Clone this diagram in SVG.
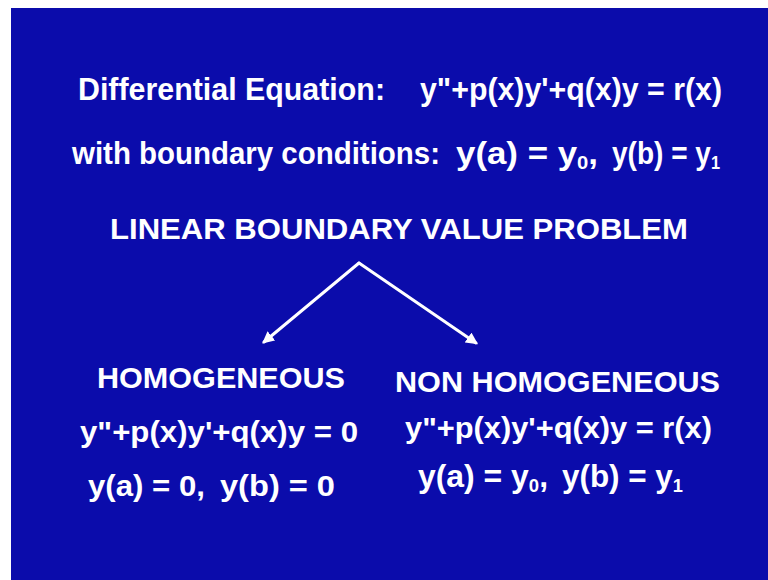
<svg xmlns="http://www.w3.org/2000/svg" width="768" height="580" viewBox="0 0 768 580">
<style>
  text { font-family: "Liberation Sans", Arial, sans-serif; font-weight: bold; fill: #ffffff; }
  .t { font-size: 31px; }
  .h { font-size: 30px; }
  .sub { font-size: 18px; }
  .conn { stroke: #ffffff; stroke-width: 3; fill: none; stroke-linecap: round; }
</style>
<defs>
  <marker id="ah" viewBox="0 0 10 10" refX="8" refY="5" markerWidth="4" markerHeight="4" orient="auto" markerUnits="strokeWidth">
    <path d="M0,0 L10,5 L0,10 z" fill="#ffffff"/>
  </marker>
</defs>
<rect x="0" y="0" width="768" height="580" fill="#ffffff"/>
<rect x="11" y="8" width="757" height="572" fill="#0b0cab"/>

<g id="header">
  <text class="t" x="78" y="100" textLength="307" lengthAdjust="spacingAndGlyphs">Differential Equation:</text>
  <text class="t" x="420" y="100" textLength="302" lengthAdjust="spacingAndGlyphs">y"+p(x)y'+q(x)y = r(x)</text>
  <text class="t" x="72" y="164" textLength="368" lengthAdjust="spacingAndGlyphs">with boundary conditions:</text>
  <text class="t" x="456" y="164" textLength="142" lengthAdjust="spacingAndGlyphs">y(a) = y<tspan class="sub" dy="5">0</tspan><tspan dy="-5">,</tspan></text>
  <text class="t" x="612" y="164" textLength="108" lengthAdjust="spacingAndGlyphs">y(b) = y<tspan class="sub" dy="5">1</tspan></text>
</g>

<g id="root">
  <text class="h" x="110" y="239" textLength="578" lengthAdjust="spacingAndGlyphs">LINEAR BOUNDARY VALUE PROBLEM</text>
</g>

<g id="connectors">
  <path class="conn" d="M359,263 L264,342" marker-end="url(#ah)"/>
  <path class="conn" d="M359,263 L476,343" marker-end="url(#ah)"/>
</g>

<g id="homogeneous">
  <text class="h" x="97" y="388" textLength="248" lengthAdjust="spacingAndGlyphs">HOMOGENEOUS</text>
  <text class="h" x="80" y="442" textLength="278" lengthAdjust="spacingAndGlyphs">y"+p(x)y'+q(x)y = 0</text>
  <text class="h" x="88" y="496" textLength="117" lengthAdjust="spacingAndGlyphs">y(a) = 0,</text>
  <text class="h" x="220" y="496" textLength="115" lengthAdjust="spacingAndGlyphs">y(b) = 0</text>
</g>

<g id="nonhomogeneous">
  <text class="h" x="395" y="392" textLength="325" lengthAdjust="spacingAndGlyphs">NON HOMOGENEOUS</text>
  <text class="h" x="405" y="438" textLength="307" lengthAdjust="spacingAndGlyphs">y"+p(x)y'+q(x)y = r(x)</text>
  <text class="t" x="418" y="487" textLength="130" lengthAdjust="spacingAndGlyphs">y(a) = y<tspan class="sub" dy="5">0</tspan><tspan dy="-5">,</tspan></text>
  <text class="t" x="562" y="487" textLength="121" lengthAdjust="spacingAndGlyphs">y(b) = y<tspan class="sub" dy="5">1</tspan></text>
</g>
</svg>
